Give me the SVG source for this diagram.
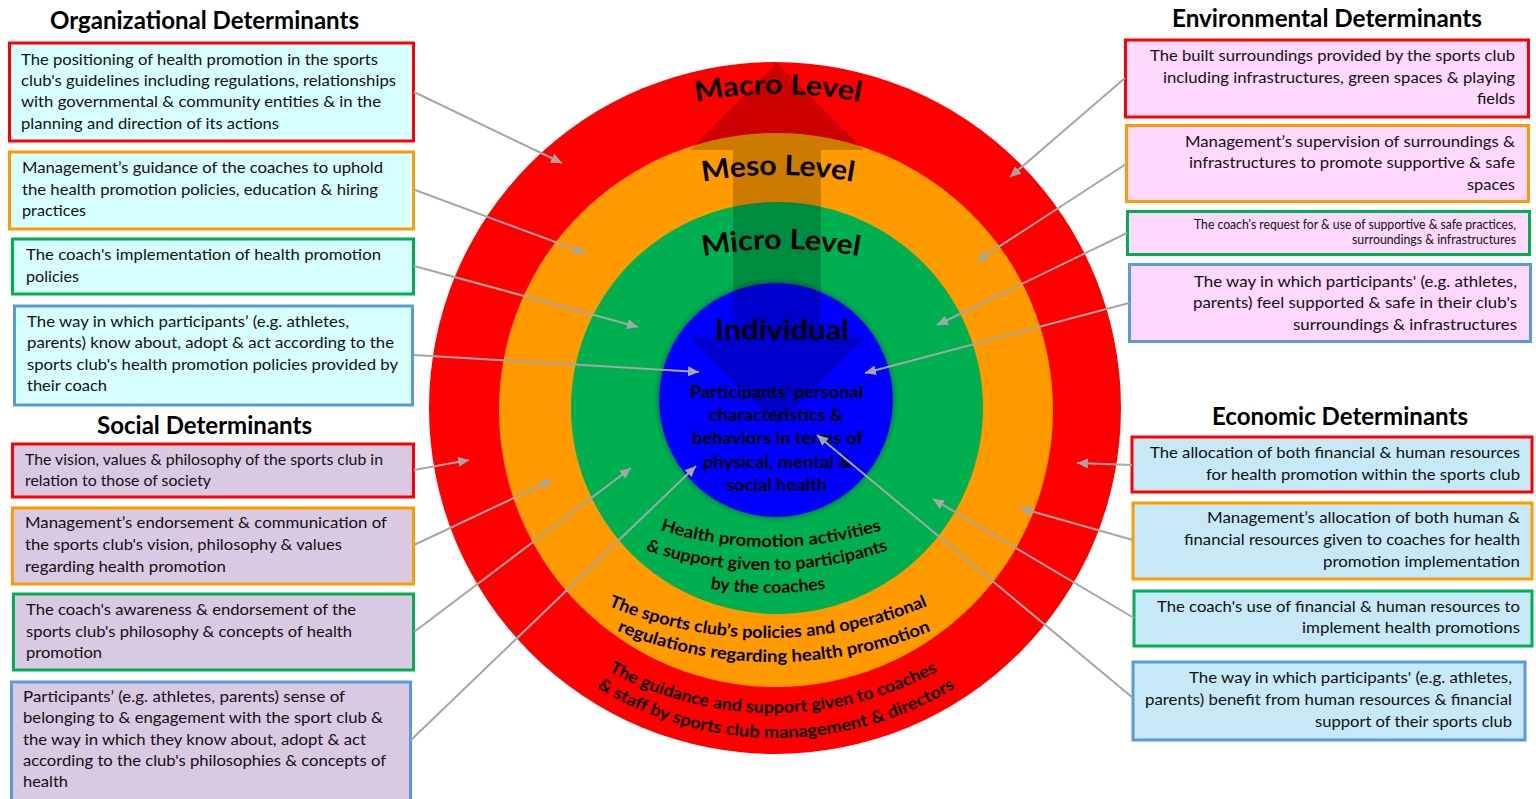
<svg xmlns="http://www.w3.org/2000/svg" width="1536" height="799" viewBox="0 0 1536 799">
<style>
  .title { font-family: Lato, "Liberation Sans", sans-serif; font-weight: 700; font-size: 24px; fill: #000; }
  .bt { font-family: Lato, "Liberation Sans", sans-serif; font-size: 16px; fill: #111; }
  .bt-small { font-family: Lato, "Liberation Sans", sans-serif; font-size: 12.5px; fill: #111; }
  .lvl { font-family: Lato, "Liberation Sans", sans-serif; font-weight: 700; font-size: 28px; fill: #000; }
  .ring { font-family: Lato, "Liberation Sans", sans-serif; font-weight: 700; font-size: 17px; fill: #000; }
  .core { font-family: Lato, "Liberation Sans", sans-serif; font-weight: 700; font-size: 16.5px; fill: #000; }
  .box { stroke-width: 3; }
  .org { fill: #D7FFFF; }
  .soc { fill: #DAC9E3; }
  .env { fill: #FFD7FF; }
  .eco { fill: #C6E8F7; }
  .s-red { stroke: #FF0000; }
  .s-orange { stroke: #FF9A00; }
  .s-green { stroke: #00B050; }
  .s-blue { stroke: #5B9BD5; }
  .conn line { stroke: #A6A6A6; stroke-width: 2; marker-end: url(#ah); }
</style>
<defs>
  <marker id="ah" markerUnits="userSpaceOnUse" markerWidth="12" markerHeight="10" refX="11" refY="5" orient="auto">
    <path d="M0,0 L11,5 L0,10 z" fill="#A6A6A6"/>
  </marker>
  <filter id="shadow" x="-20%" y="-20%" width="140%" height="140%">
    <feGaussianBlur in="SourceAlpha" stdDeviation="3"/>
    <feComponentTransfer><feFuncA type="linear" slope="0.45"/></feComponentTransfer>
    <feMerge><feMergeNode/><feMergeNode in="SourceGraphic"/></feMerge>
  </filter>
  <!-- arcs carrying the level names (over the top) -->
  <path id="arcMacro" d="M596.3,134.3 A430,430 0 0 1 959.7,134.3"/>
  <path id="arcMeso" d="M596.3,215.3 A430,430 0 0 1 959.7,215.3"/>
  <path id="arcMicro" d="M599.3,289.3 A430,430 0 0 1 962.7,289.3"/>
  <!-- arcs carrying the ring descriptions (under the bottom) -->
  <path id="arcG1" d="M558.8,480.1 A370,370 0 0 0 983.2,480.1"/>
  <path id="arcG2" d="M549,501.3 A380,380 0 0 0 985,501.3"/>
  <path id="arcG3" d="M550,524.3 A380,380 0 0 0 986,524.3"/>
  <path id="arcO1" d="M532.8,563.9 A410,410 0 0 0 1003.2,563.9"/>
  <path id="arcO2" d="M538.8,587.9 A410,410 0 0 0 1009.2,587.9"/>
  <path id="arcR1" d="M575.1,650.6 A345,345 0 0 0 970.9,650.6"/>
  <path id="arcR2" d="M578.1,675.6 A345,345 0 0 0 973.9,675.6"/>
</defs>

<rect width="1536" height="799" fill="#FFFFFF"/>

<!-- concentric levels -->
<g id="levels">
  <circle id="macro" cx="775" cy="408" r="346" fill="#FF0000"/>
  <circle id="meso" cx="776" cy="410" r="277" fill="#FF9A00"/>
  <circle id="micro" cx="777" cy="408" r="206" fill="#00B050"/>
  <circle id="individual" cx="776" cy="400" r="117" fill="#0000FF" filter="url(#shadow)"/>
  <!-- two-headed translucent arrow through the levels -->
  <polygon points="777,63 864,150 821,150 821,337 866,337 778,425 690,337 733,337 733,150 690,150" fill="#000" fill-opacity="0.2"/>
  <text class="lvl"><textPath href="#arcMacro" startOffset="50%" text-anchor="middle" textLength="165" lengthAdjust="spacingAndGlyphs">Macro Level</textPath></text>
  <text class="lvl"><textPath href="#arcMeso" startOffset="50%" text-anchor="middle" textLength="151" lengthAdjust="spacingAndGlyphs">Meso Level</textPath></text>
  <text class="lvl"><textPath href="#arcMicro" startOffset="50%" text-anchor="middle" textLength="157" lengthAdjust="spacingAndGlyphs">Micro Level</textPath></text>
  <text class="lvl" x="715" y="340" textLength="134" lengthAdjust="spacingAndGlyphs">Individual</text>
  <text class="core" x="690" y="398" textLength="173" lengthAdjust="spacingAndGlyphs">Participants' personal</text>
  <text class="core" x="709" y="421" textLength="134" lengthAdjust="spacingAndGlyphs">characteristics &amp;</text>
  <text class="core" x="692" y="444" textLength="171" lengthAdjust="spacingAndGlyphs">behaviors in terms of</text>
  <text class="core" x="703" y="468" textLength="149" lengthAdjust="spacingAndGlyphs">physical, mental &amp;</text>
  <text class="core" x="726" y="491" textLength="101" lengthAdjust="spacingAndGlyphs">social health</text>
  <text class="ring"><textPath href="#arcG1" startOffset="50%" text-anchor="middle" textLength="225" lengthAdjust="spacingAndGlyphs">Health promotion activities</textPath></text>
  <text class="ring"><textPath href="#arcG2" startOffset="50%" text-anchor="middle" textLength="247" lengthAdjust="spacingAndGlyphs">&amp; support given to participants</textPath></text>
  <text class="ring"><textPath href="#arcG3" startOffset="50%" text-anchor="middle" textLength="116" lengthAdjust="spacingAndGlyphs">by the coaches</textPath></text>
  <text class="ring"><textPath href="#arcO1" startOffset="50%" text-anchor="middle" textLength="328" lengthAdjust="spacingAndGlyphs">The sports club’s policies and operational</textPath></text>
  <text class="ring"><textPath href="#arcO2" startOffset="50%" text-anchor="middle" textLength="322" lengthAdjust="spacingAndGlyphs">regulations regarding health promotion</textPath></text>
  <text class="ring"><textPath href="#arcR1" startOffset="50%" text-anchor="middle" textLength="343" lengthAdjust="spacingAndGlyphs">The guidance and support given to coaches</textPath></text>
  <text class="ring"><textPath href="#arcR2" startOffset="50%" text-anchor="middle" textLength="377" lengthAdjust="spacingAndGlyphs">&amp; staff by sports club management &amp; directors</textPath></text>
</g>

<!-- group headings -->
<text class="title" x="50" y="29" textLength="309" lengthAdjust="spacingAndGlyphs">Organizational Determinants</text>
<text class="title" x="97" y="434" textLength="215" lengthAdjust="spacingAndGlyphs">Social Determinants</text>
<text class="title" x="1172" y="27" textLength="310" lengthAdjust="spacingAndGlyphs">Environmental Determinants</text>
<text class="title" x="1212" y="425" textLength="256" lengthAdjust="spacingAndGlyphs">Economic Determinants</text>

<!-- organizational determinants -->
<g id="org-macro">
  <rect class="box org s-red" x="9.5" y="43" width="404" height="98"/>
  <text class="bt" x="21" y="65" textLength="357" lengthAdjust="spacingAndGlyphs">The positioning of health promotion in the sports</text>
  <text class="bt" x="21" y="86" textLength="375" lengthAdjust="spacingAndGlyphs">club's guidelines including regulations, relationships</text>
  <text class="bt" x="21" y="107" textLength="360" lengthAdjust="spacingAndGlyphs">with governmental &amp; community entities &amp; in the</text>
  <text class="bt" x="21" y="129" textLength="258" lengthAdjust="spacingAndGlyphs">planning and direction of its actions</text>
</g>
<g id="org-meso">
  <rect class="box org s-orange" x="9.5" y="152" width="404" height="77"/>
  <text class="bt" x="22" y="173" textLength="361" lengthAdjust="spacingAndGlyphs">Management’s guidance of the coaches to uphold</text>
  <text class="bt" x="22" y="195" textLength="356" lengthAdjust="spacingAndGlyphs">the health promotion policies, education &amp; hiring</text>
  <text class="bt" x="22" y="216" textLength="64" lengthAdjust="spacingAndGlyphs">practices</text>
</g>
<g id="org-micro">
  <rect class="box org s-green" x="12.5" y="239" width="401" height="55"/>
  <text class="bt" x="26" y="260" textLength="355" lengthAdjust="spacingAndGlyphs">The coach's implementation of health promotion</text>
  <text class="bt" x="26" y="282" textLength="53" lengthAdjust="spacingAndGlyphs">policies</text>
</g>
<g id="org-individual">
  <rect class="box org s-blue" x="14.5" y="306" width="398" height="99"/>
  <text class="bt" x="27" y="327" textLength="322" lengthAdjust="spacingAndGlyphs">The way in which participants’ (e.g. athletes,</text>
  <text class="bt" x="27" y="348" textLength="367" lengthAdjust="spacingAndGlyphs">parents) know about, adopt &amp; act according to the</text>
  <text class="bt" x="27" y="370" textLength="371" lengthAdjust="spacingAndGlyphs">sports club's health promotion policies provided by</text>
  <text class="bt" x="27" y="391" textLength="80" lengthAdjust="spacingAndGlyphs">their coach</text>
</g>

<!-- social determinants -->
<g id="soc-macro">
  <rect class="box soc s-red" x="12.5" y="444" width="401" height="53"/>
  <text class="bt" x="25" y="465" textLength="358" lengthAdjust="spacingAndGlyphs">The vision, values &amp; philosophy of the sports club in</text>
  <text class="bt" x="25" y="486" textLength="186" lengthAdjust="spacingAndGlyphs">relation to those of society</text>
</g>
<g id="soc-meso">
  <rect class="box soc s-orange" x="12.5" y="508" width="401" height="76"/>
  <text class="bt" x="25" y="528" textLength="362" lengthAdjust="spacingAndGlyphs">Management’s endorsement &amp; communication of</text>
  <text class="bt" x="25" y="550" textLength="317" lengthAdjust="spacingAndGlyphs">the sports club's vision, philosophy &amp; values</text>
  <text class="bt" x="25" y="572" textLength="201" lengthAdjust="spacingAndGlyphs">regarding health promotion</text>
</g>
<g id="soc-micro">
  <rect class="box soc s-green" x="13.5" y="594" width="400" height="76"/>
  <text class="bt" x="26" y="615" textLength="330" lengthAdjust="spacingAndGlyphs">The coach's awareness &amp; endorsement of the</text>
  <text class="bt" x="26" y="637" textLength="326" lengthAdjust="spacingAndGlyphs">sports club's philosophy &amp; concepts of health</text>
  <text class="bt" x="26" y="658" textLength="76" lengthAdjust="spacingAndGlyphs">promotion</text>
</g>
<g id="soc-individual">
  <rect class="box soc s-blue" x="11.5" y="682" width="399" height="130"/>
  <text class="bt" x="23" y="702" textLength="322" lengthAdjust="spacingAndGlyphs">Participants’ (e.g. athletes, parents) sense of</text>
  <text class="bt" x="23" y="723" textLength="360" lengthAdjust="spacingAndGlyphs">belonging to &amp; engagement with the sport club &amp;</text>
  <text class="bt" x="23" y="745" textLength="343" lengthAdjust="spacingAndGlyphs">the way in which they know about, adopt &amp; act</text>
  <text class="bt" x="23" y="766" textLength="363" lengthAdjust="spacingAndGlyphs">according to the club's philosophies &amp; concepts of</text>
  <text class="bt" x="23" y="787" textLength="45" lengthAdjust="spacingAndGlyphs">health</text>
</g>

<!-- environmental determinants -->
<g id="env-macro">
  <rect class="box env s-red" x="1125.5" y="40" width="403" height="77"/>
  <text class="bt" x="1150" y="61" textLength="365" lengthAdjust="spacingAndGlyphs">The built surroundings provided by the sports club</text>
  <text class="bt" x="1163" y="83" textLength="352" lengthAdjust="spacingAndGlyphs">including infrastructures, green spaces &amp; playing</text>
  <text class="bt" x="1477" y="104" textLength="38" lengthAdjust="spacingAndGlyphs">fields</text>
</g>
<g id="env-meso">
  <rect class="box env s-orange" x="1126.5" y="125.5" width="402" height="76"/>
  <text class="bt" x="1185" y="147" textLength="330" lengthAdjust="spacingAndGlyphs">Management’s supervision of surroundings &amp;</text>
  <text class="bt" x="1189" y="168" textLength="326" lengthAdjust="spacingAndGlyphs">infrastructures to promote supportive &amp; safe</text>
  <text class="bt" x="1467" y="190" textLength="48" lengthAdjust="spacingAndGlyphs">spaces</text>
</g>
<g id="env-micro">
  <rect class="box env s-green" x="1127.5" y="211.5" width="402" height="43"/>
  <text class="bt-small" x="1194" y="229" textLength="322" lengthAdjust="spacingAndGlyphs">The coach's request for &amp; use of supportive &amp; safe practices,</text>
  <text class="bt-small" x="1352" y="244" textLength="164" lengthAdjust="spacingAndGlyphs">surroundings &amp; infrastructures</text>
</g>
<g id="env-individual">
  <rect class="box env s-blue" x="1129.5" y="264.5" width="401" height="77"/>
  <text class="bt" x="1194" y="287" textLength="323" lengthAdjust="spacingAndGlyphs">The way in which participants' (e.g. athletes,</text>
  <text class="bt" x="1193" y="308" textLength="324" lengthAdjust="spacingAndGlyphs">parents) feel supported &amp; safe in their club's</text>
  <text class="bt" x="1293" y="330" textLength="224" lengthAdjust="spacingAndGlyphs">surroundings &amp; infrastructures</text>
</g>

<!-- economic determinants -->
<g id="eco-macro">
  <rect class="box eco s-red" x="1132" y="437" width="400" height="55"/>
  <text class="bt" x="1150" y="458" textLength="370" lengthAdjust="spacingAndGlyphs">The allocation of both financial &amp; human resources</text>
  <text class="bt" x="1206" y="480" textLength="314" lengthAdjust="spacingAndGlyphs">for health promotion within the sports club</text>
</g>
<g id="eco-meso">
  <rect class="box eco s-orange" x="1133" y="503" width="399" height="76"/>
  <text class="bt" x="1207" y="523" textLength="313" lengthAdjust="spacingAndGlyphs">Management’s allocation of both human &amp;</text>
  <text class="bt" x="1184" y="545" textLength="336" lengthAdjust="spacingAndGlyphs">financial resources given to coaches for health</text>
  <text class="bt" x="1323" y="567" textLength="197" lengthAdjust="spacingAndGlyphs">promotion implementation</text>
</g>
<g id="eco-micro">
  <rect class="box eco s-green" x="1134" y="591" width="398" height="55"/>
  <text class="bt" x="1157" y="612" textLength="363" lengthAdjust="spacingAndGlyphs">The coach's use of financial &amp; human resources to</text>
  <text class="bt" x="1302" y="633" textLength="218" lengthAdjust="spacingAndGlyphs">implement health promotions</text>
</g>
<g id="eco-individual">
  <rect class="box eco s-blue" x="1133" y="662" width="392" height="78"/>
  <text class="bt" x="1189" y="683" textLength="323" lengthAdjust="spacingAndGlyphs">The way in which participants' (e.g. athletes,</text>
  <text class="bt" x="1145" y="705" textLength="367" lengthAdjust="spacingAndGlyphs">parents) benefit from human resources &amp; financial</text>
  <text class="bt" x="1315" y="727" textLength="197" lengthAdjust="spacingAndGlyphs">support of their sports club</text>
</g>

<!-- connectors from determinant boxes to their level -->
<g id="connectors" class="conn">
  <line x1="414" y1="92" x2="562" y2="163"/>
  <line x1="415" y1="190" x2="585" y2="253"/>
  <line x1="414" y1="266" x2="638" y2="327"/>
  <line x1="414" y1="355" x2="699" y2="372"/>
  <line x1="414" y1="470" x2="469" y2="460"/>
  <line x1="414" y1="545" x2="552" y2="480"/>
  <line x1="414" y1="632" x2="631" y2="468"/>
  <line x1="411" y1="740" x2="696" y2="466"/>
  <line x1="1125" y1="78" x2="1010" y2="177"/>
  <line x1="1126" y1="164" x2="977" y2="261"/>
  <line x1="1127" y1="233" x2="937" y2="325"/>
  <line x1="1129" y1="303" x2="865" y2="373"/>
  <line x1="1132" y1="465" x2="1077" y2="463"/>
  <line x1="1133" y1="540" x2="1020" y2="508"/>
  <line x1="1134" y1="618" x2="933" y2="499"/>
  <line x1="1133" y1="698" x2="817" y2="435"/>
</g>
</svg>
